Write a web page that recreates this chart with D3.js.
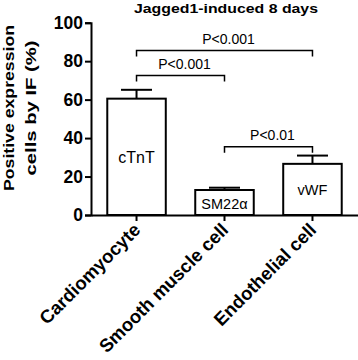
<!DOCTYPE html>
<html>
<head>
<meta charset="utf-8">
<script src="https://cdn.jsdelivr.net/npm/d3@7"></script>
<style>
  html, body { margin: 0; padding: 0; background: #fff; }
  svg { display: block; font-family: "Liberation Sans", Arial, Helvetica, sans-serif; }
</style>
</head>
<body>
<svg id="chart" width="358" height="360"></svg>
<script>
// ---- data ----
const categories = ["Cardiomyocyte", "Smooth muscle cell", "Endothelial cell"];
const means = [60.5, 13.0, 26.6];
const errors = [4.6, 1.2, 4.3];
const barLabels = ["cTnT", "SM22\u03b1", "vWF"];
const yTicks = [0, 20, 40, 60, 80, 100];
const brackets = [
  { from: 0, to: 2, level: 85.5, label: "P<0.001" },
  { from: 0, to: 1, level: 72.5, label: "P<0.001" },
  { from: 1, to: 2, level: 35.5, label: "P<0.01" }
];
const title = "Jagged1-induced 8 days";
const yTitle = ["Positive expression", "cells by IF (%)"];

// ---- layout ----
const svg = d3.select("#chart");
const x = d3.scaleBand().domain(categories).range([91, 358]).paddingInner(0.335).paddingOuter(0.185);
const y = d3.scaleLinear().domain([0, 100]).range([215, 22.7]);
const cx = i => x(categories[i]) + x.bandwidth() / 2;

// title
svg.append("text")
  .attr("x", 226).attr("y", 13)
  .attr("text-anchor", "middle")
  .attr("font-weight", "bold").attr("font-size", 13.5)
  .attr("textLength", 184).attr("lengthAdjust", "spacingAndGlyphs")
  .text(title);

// y axis
const yAxis = svg.append("g").attr("transform", "translate(91,0)")
  .call(d3.axisLeft(y).tickValues(yTicks).tickSize(6).tickPadding(2).tickFormat(d3.format("d")));
yAxis.select(".domain").attr("stroke", "#000").attr("stroke-width", 2);
yAxis.selectAll(".tick line").attr("stroke", "#000").attr("stroke-width", 2);
yAxis.selectAll(".tick text")
  .attr("font-family", "Liberation Sans, Arial, sans-serif")
  .attr("font-weight", "bold").attr("font-size", 17.5).attr("fill", "#000");

// y title
yTitle.forEach((t, i) => {
  svg.append("text")
    .attr("transform", `translate(${i === 0 ? 14 : 36},108) rotate(-90)`)
    .attr("text-anchor", "middle")
    .attr("font-weight", "bold").attr("font-size", 15.5)
    .attr("textLength", i === 0 ? 166 : 135).attr("lengthAdjust", "spacingAndGlyphs")
    .text(t);
});

// bars
svg.append("g").selectAll("rect").data(means).join("rect")
  .attr("x", (d, i) => x(categories[i]))
  .attr("y", d => y(d))
  .attr("width", x.bandwidth())
  .attr("height", d => y(0) - y(d))
  .attr("fill", "#fff").attr("stroke", "#000").attr("stroke-width", 2);

// error bars
const eb = svg.append("g").attr("stroke", "#000").attr("stroke-width", 2);
means.forEach((m, i) => {
  eb.append("line").attr("x1", cx(i)).attr("x2", cx(i)).attr("y1", y(m)).attr("y2", y(m + errors[i]));
  eb.append("line").attr("x1", cx(i) - 15.5).attr("x2", cx(i) + 15.5).attr("y1", y(m + errors[i])).attr("y2", y(m + errors[i]));
});

// x axis
const xAxis = svg.append("g").attr("transform", "translate(0,215)")
  .call(d3.axisBottom(x).tickSize(6).tickSizeOuter(0).tickFormat(""));
xAxis.select(".domain").attr("stroke", "#000").attr("stroke-width", 2);
xAxis.selectAll(".tick line").attr("stroke", "#000").attr("stroke-width", 2);

// x labels
svg.append("g").selectAll("text").data(categories).join("text")
  .attr("transform", (d, i) => `translate(${cx(i) + 5},231) rotate(-45)`)
  .attr("text-anchor", "end")
  .attr("font-weight", "bold").attr("font-size", 18.5)
  .text(d => d);

// bar labels
const labelY = [163, 209, 195];
svg.append("g").selectAll("text").data(barLabels).join("text")
  .attr("x", (d, i) => cx(i))
  .attr("y", (d, i) => labelY[i])
  .attr("text-anchor", "middle")
  .attr("font-size", (d, i) => i === 0 ? 16 : 14.5)
  .text(d => d);

// significance brackets
const bg = svg.append("g");
brackets.forEach(b => {
  const x1 = cx(b.from), x2 = cx(b.to), yy = y(b.level);
  bg.append("path")
    .attr("d", `M${x1},${yy + 6}V${yy}H${x2}V${yy + 6}`)
    .attr("fill", "none").attr("stroke", "#000").attr("stroke-width", 1.5);
  bg.append("text")
    .attr("x", (x1 + x2) / 2 + 4).attr("y", yy - 7)
    .attr("text-anchor", "middle")
    .attr("font-size", 14)
    .text(b.label);
});
</script>
</body>
</html>
